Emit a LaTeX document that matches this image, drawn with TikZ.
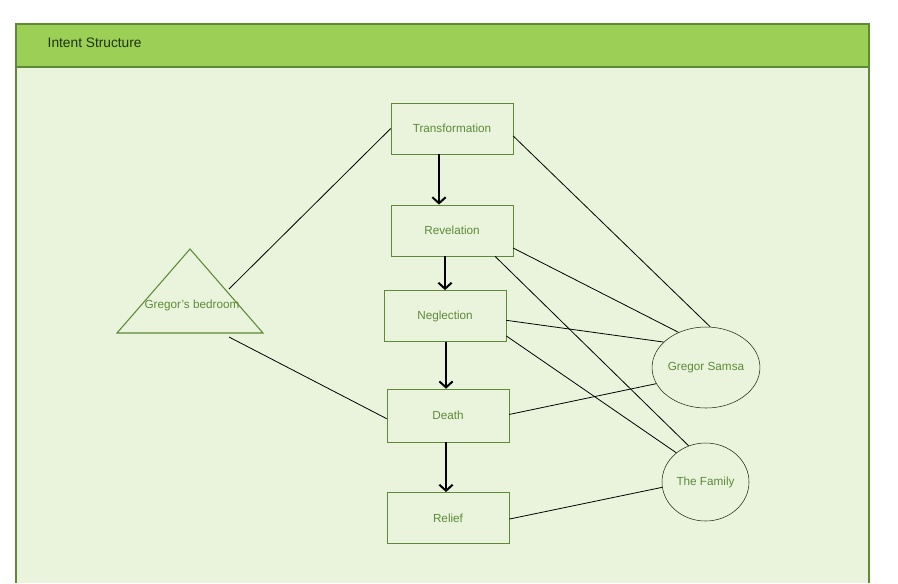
\documentclass[tikz,border=0pt]{standalone}
\usepackage{fontspec}
\setmainfont{Liberation Sans}
\usetikzlibrary{shapes.geometric, arrows.meta, positioning, calc}

\definecolor{headgreen}{HTML}{9CCF56}
\definecolor{panelgreen}{HTML}{EAF4DD}
\definecolor{edgegreen}{HTML}{5E8A36}
\definecolor{textgreen}{HTML}{5C8A38}
\definecolor{titlegreen}{HTML}{1E3410}

\tikzset{
  box/.style={draw=edgegreen, rectangle, minimum width=91.5pt, minimum height=38.5pt, inner sep=0pt, text=textgreen, font=\fontsize{8.8}{10}\selectfont},
  oval/.style={draw=black!70!edgegreen, ellipse, inner sep=0pt, text=textgreen, font=\fontsize{8.8}{10}\selectfont},
  link/.style={black, line width=0.6pt},
  flow/.style={->, >={Straight Barb[length=4.5pt, width=10pt]}, black, line width=1.5pt}
}

\begin{document}
\begin{tikzpicture}[x=0.75pt, y=-0.75pt]
\useasboundingbox (0,0) rectangle (898,583);

% panel
\fill[panelgreen] (16,67) rectangle (869,583);
\fill[headgreen] (16,24) rectangle (869,67);
\draw[edgegreen, line width=0.8pt] (16,583) -- (16,24) -- (869,24) -- (869,583);
\draw[edgegreen, line width=0.8pt] (16,67) -- (869,67);
\node[anchor=west, text=titlegreen, font=\fontsize{10.3}{12}\selectfont] (title) at (43,43) {Intent Structure};

% main sequence
\node[box] (trans) at (452,128.5) {Transformation};
\node[box] (rev) at (452,230.5) {Revelation};
\node[box] (neg) at (445,316) {Neglection};
\node[box, minimum height=39.75pt] (death) at (448,415.5) {Death};
\node[box] (relief) at (448,518) {Relief};

% characters
\node[oval, minimum width=75pt, minimum height=60.75pt] (samsa) at (706,367.5) {Gregor Samsa};
\node[oval, minimum width=65.25pt, minimum height=58.5pt] (family) at (705.5,482) {The Family};

% setting
\coordinate (apex) at (190,249);
\coordinate (bl) at (117,333);
\coordinate (br) at (263,333);
\draw[edgegreen, line width=0.8pt] (apex) -- (br) -- (bl) -- cycle;
\node[text=textgreen, font=\fontsize{8.8}{10}\selectfont] (room) at (192,305) {Gregor's bedroom};
\coordinate (roomtop) at (229,289);
\coordinate (roomlow) at (229,337);

% sequence arrows
\draw[flow] ([xshift=-9.75pt]trans.south) -- ([xshift=-9.75pt]trans.south |- rev.north);
\draw[flow] ([xshift=-5.25pt]rev.south) -- ([xshift=-5.25pt]rev.south |- neg.north);
\draw[flow] ([xshift=0.75pt]neg.south) -- ([xshift=0.75pt]neg.south |- death.north);
\draw[flow] ([xshift=-1.5pt]death.south) -- ([xshift=-1.5pt]death.south |- relief.north);

% links
\draw[link] (roomtop) -- (trans.west);
\draw[link] (roomlow) -- (death.183);
\draw[link] (trans.-7) -- (samsa.84);
\draw[link] (rev.-16) -- (samsa.128);
\draw[link] (rev.-31) -- (family.115);
\draw[link] (neg.-4) -- (samsa.149);
\draw[link] (neg.-18) -- (family.135);
\draw[link] (death.1) -- (samsa.198);
\draw[link] (relief.-1) -- (family.187);
\end{tikzpicture}
\end{document}
